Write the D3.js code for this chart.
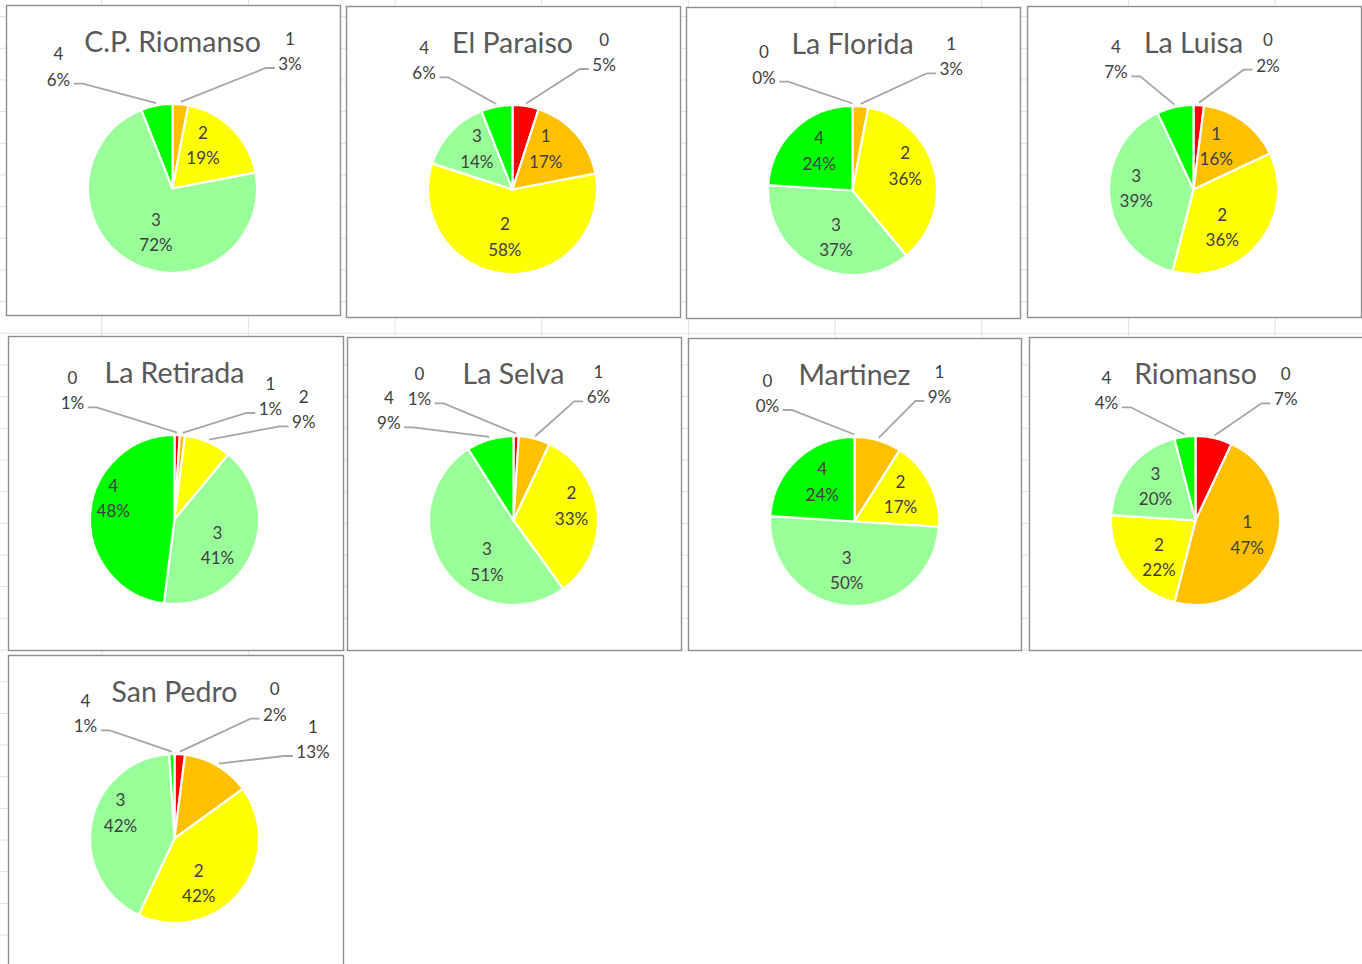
<!DOCTYPE html>
<html>
<head>
<meta charset="utf-8">
<script src="https://cdn.jsdelivr.net/npm/d3@7"></script>
<style>
  html, body { margin: 0; padding: 0; background: #ffffff; }
  svg { display: block; font-family: Lato, "Open Sans", sans-serif; }
</style>
</head>
<body>
<svg id="chart" width="1362" height="964"></svg>
<script>
// ---- data -------------------------------------------------------------
const places = ["C.P. Riomanso", "El Paraiso", "La Florida", "La Luisa",
                "La Retirada", "La Selva", "Martinez", "Riomanso", "San Pedro"];
const categories = ["0", "1", "2", "3", "4"];

// share (%) of each category per place; null = category not present
const shareCPRiomanso = [null, 3, 19, 72, 6];
const shareElParaiso  = [5, 17, 58, 14, 6];
const shareLaFlorida  = [0, 3, 36, 37, 24];
const shareLaLuisa    = [2, 16, 36, 39, 7];
const shareLaRetirada = [1, 1, 9, 41, 48];
const shareLaSelva    = [1, 6, 33, 51, 9];
const shareMartinez   = [0, 9, 17, 50, 24];
const shareRiomanso   = [7, 47, 22, 20, 4];
const shareSanPedro   = [2, 13, 42, 42, 1];

const placeShares = [shareCPRiomanso, shareElParaiso, shareLaFlorida, shareLaLuisa,
                     shareLaRetirada, shareLaSelva, shareMartinez, shareRiomanso, shareSanPedro];

// ---- styling / layout -------------------------------------------------
const categoryColors = ["#ff0000", "#ffc000", "#ffff00", "#99ff99", "#00ff00"];

// chart frames on the sheet: [x, y, width, height]
const frames = [
  [6, 5, 334, 310], [346, 6, 334, 311], [686, 7, 334, 311], [1027, 6, 334, 311],
  [8, 336, 335, 314], [347, 337, 334, 313], [688, 338, 333, 312], [1029, 337, 335, 313],
  [8, 655, 335, 320]
];

// label blocks drawn inside slices: category -> [dx, dy] of block centre from pie centre
const insideSpots = [
  {2: [30.5, -43], 3: [-16.5, 44]},
  {1: [33.3, -40.7], 2: [-7.7, 47.3], 3: [-35.7, -40.7]},
  {2: [52.7, -24.8], 3: [-16.6, 46.8], 4: [-33.3, -39.6]},
  {1: [22.7, -43.3], 2: [28.7, 37.7], 3: [-57.3, -1.3]},
  {3: [43, 25.7], 4: [-61.3, -21]},
  {2: [58, -14.7], 3: [-26.5, 41.2]},
  {2: [46, -27.3], 3: [-7.8, 49], 4: [-32.3, -39.7]},
  {1: [51.8, 14.5], 2: [-36.5, 37], 3: [-40, -34]},
  {2: [24.3, 45], 3: [-54, -25.5]}
];

// label blocks placed outside with leader lines: category -> [dx of text centre, dy of first baseline]
const outsideSpots = [
  {1: [117.5, -144], 4: [-114, -128.3]},
  {0: [91.6, -144], 4: [-88.4, -135.7]},
  {0: [-88.6, -132.4], 1: [98.7, -140.7]},
  {0: [74.4, -143.3], 4: [-77.5, -136.6]},
  {0: [-102, -135.6], 1: [96, -130], 2: [129.3, -116.6]},
  {0: [-94, -140.7], 1: [85, -142.7], 4: [-124.7, -116.7]},
  {0: [-87, -135], 1: [85, -144]},
  {0: [90.3, -140.7], 4: [-89, -136.7]},
  {0: [100.3, -143.3], 1: [138.5, -106], 4: [-89, -131.7]}
];

const W = 1362, H = 964;
const R = 84.5;
const CX_OFF = 166.5, CY_OFF = 183.5;
const LINE_GAP = 25.5;
const labelColor = "#404040";

const svg = d3.select("#chart");

// ---- spreadsheet grid behind the charts --------------------------------
const defs = svg.append("defs");
defs.append("clipPath").attr("id", "sheetArea")
  .append("path").attr("d", "M0,0H1362V651H344V964H0Z");

const grid = svg.append("g").attr("clip-path", "url(#sheetArea)")
  .attr("stroke", "#e1e1e1").attr("stroke-width", 1);
const colXs = d3.range(0, 9).map(i => 101.7 + i * 146.67);
const rowYs = d3.range(-10, 21).map(i => 333.3 + i * 31.67).filter(y => y > 0 && y < H);
grid.selectAll("line.col").data(colXs).join("line").attr("class", "col")
  .attr("x1", d => d).attr("x2", d => d).attr("y1", 0).attr("y2", H);
grid.selectAll("line.row").data(rowYs).join("line").attr("class", "row")
  .attr("x1", 0).attr("x2", W).attr("y1", d => d).attr("y2", d => d);

// ---- pies --------------------------------------------------------------
const pie = d3.pie().sort(null).value(d => d.value)
  .startAngle(0).endAngle(2 * Math.PI);
const arc = d3.arc().innerRadius(0).outerRadius(R);

places.forEach((name, p) => {
  const [fx, fy, fw, fh] = frames[p];
  const g = svg.append("g");

  g.append("rect")
    .attr("x", fx + 0.5).attr("y", fy + 0.5)
    .attr("width", fw).attr("height", fh)
    .attr("fill", "#ffffff")
    .attr("stroke", "#8e8e8e").attr("stroke-width", 1.4);

  const cx = fx + CX_OFF, cy = fy + CY_OFF;

  g.append("text")
    .attr("x", cx).attr("y", cy - 137)
    .attr("text-anchor", "middle")
    .attr("font-size", 28.5)
    .attr("fill", "#595959")
    .text(name);

  const rows = categories.map((c, i) => ({cat: c, idx: i, value: placeShares[p][i]}))
    .filter(d => d.value !== null);
  const slices = pie(rows);

  const pg = g.append("g").attr("transform", `translate(${cx},${cy})`);
  pg.selectAll("path.slice").data(slices).join("path")
    .attr("class", "slice")
    .attr("d", arc)
    .attr("fill", d => categoryColors[d.data.idx])
    .attr("stroke", "#ffffff")
    .attr("stroke-width", 2.2)
    .attr("stroke-linejoin", "round");

  // labels inside slices
  slices.forEach(s => {
    const spot = insideSpots[p][s.data.cat];
    if (!spot) return;
    const [dx, dy] = spot;
    const t = pg.append("text")
      .attr("text-anchor", "middle")
      .attr("font-size", 17)
      .attr("fill", labelColor);
    t.append("tspan").attr("x", dx).attr("y", dy - 6.6).text(s.data.cat);
    t.append("tspan").attr("x", dx).attr("y", dy - 6.6 + LINE_GAP).text(s.data.value + "%");
  });

  // labels outside with leader lines
  slices.forEach(s => {
    const spot = outsideSpots[p][s.data.cat];
    if (!spot) return;
    const [dx, by] = spot;
    const t = pg.append("text")
      .attr("text-anchor", "middle")
      .attr("font-size", 17)
      .attr("fill", labelColor);
    const l1 = t.append("tspan").attr("x", dx).attr("y", by).text(s.data.cat);
    const l2 = t.append("tspan").attr("x", dx).attr("y", by + LINE_GAP).text(s.data.value + "%");
    const tw = Math.max(l1.node().getComputedTextLength(), l2.node().getComputedTextLength());

    const mid = (s.startAngle + s.endAngle) / 2;
    const r0 = R + 2.5;
    const sx = r0 * Math.sin(mid), sy = -r0 * Math.cos(mid);
    const side = dx > 0 ? 1 : -1;
    const edge = dx - side * tw / 2;
    const ly = by + LINE_GAP - 2;
    const endX = edge - side * 3.5;
    const elbowX = endX - side * 9;

    pg.insert("path", "text")
      .attr("d", d3.line()([[sx, sy], [elbowX, ly], [endX, ly]]))
      .attr("fill", "none")
      .attr("stroke", "#a6a6a6")
      .attr("stroke-width", 1.8);
  });
});
</script>
</body>
</html>
